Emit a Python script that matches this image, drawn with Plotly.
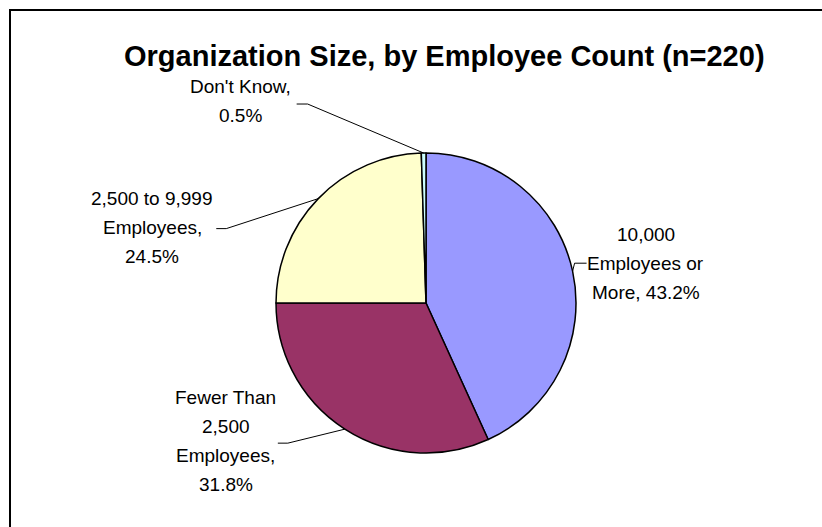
import math
import plotly.graph_objects as go

W, H = 822, 527

# ---- data ----
categories = ["10,000 Employees or More", "Fewer Than 2,500 Employees",
              "2,500 to 9,999 Employees", "Don't Know"]
values = [43.2, 31.8, 24.5, 0.5]
label_lines = [["10,000", "Employees or", "More, {p}"],
               ["Fewer Than", "2,500", "Employees,", "{p}"],
               ["2,500 to 9,999", "Employees,", "{p}"],
               ["Don't Know,", "{p}"]]
colors = ["#9999FF", "#993366", "#FFFFCC", "#CCFFFF"]
title_text = "Organization Size, by Employee Count (n=220)"

# ---- layout (pixels) ----
pie_left, pie_top, pie_size = 276, 153, 300
cx, cy, r = pie_left + pie_size / 2, pie_top + pie_size / 2, pie_size / 2
# label center offset, leader knee offset (relative to slice edge point), tick length
label_off = [(73, -8), (-119, 12), (-166, 29), (-183, -52)]
knee_off = [(2, -8), (-57, 14), (-92, 30), (-116, -49)]
tick_dir = [12, -10, -10, -11]
LINE_H = 29
FONT = "Arial, Liberation Sans, sans-serif"


def px(x):
    return x / W


def py(y):
    return 1 - y / H


fig = go.Figure(go.Pie(
    labels=categories, values=values, sort=False, direction="clockwise",
    rotation=0, textinfo="none", hoverinfo="label+percent",
    marker=dict(colors=colors, line=dict(color="#000000", width=1.5)),
    domain=dict(x=[px(pie_left), px(pie_left + pie_size)],
                y=[py(pie_top + pie_size), py(pie_top)]),
    showlegend=False,
))

annotations = []
shapes = []
total = sum(values)
cum = 0.0
for i, v in enumerate(values):
    mid = (cum + v / 2) / total * 2 * math.pi
    cum += v
    ex = cx + r * math.sin(mid)
    ey = cy - r * math.cos(mid)
    lx, ly = ex + label_off[i][0], ey + label_off[i][1]
    kx, ky = ex + knee_off[i][0], ey + knee_off[i][1]
    tx = kx + tick_dir[i]
    lines = [s.format(p=f"{v:.1f}%") for s in label_lines[i]]
    n = len(lines)
    for j, s in enumerate(lines):
        yy = ly + (j - (n - 1) / 2) * LINE_H
        annotations.append(dict(
            text=s, x=px(lx), y=py(yy), xref="paper", yref="paper",
            xanchor="center", yanchor="middle", showarrow=False,
            font=dict(family=FONT, size=19, color="#000000")))
    shapes.append(dict(type="path", xref="paper", yref="paper",
                       path=f"M {px(ex)},{py(ey)} L {px(kx)},{py(ky)} L {px(tx)},{py(ky)}",
                       line=dict(color="#000000", width=1)))

annotations.append(dict(
    text=f"<b>{title_text}</b>", x=px(444), y=py(56), xref="paper", yref="paper",
    xanchor="center", yanchor="middle", showarrow=False,
    font=dict(family=FONT, size=29, color="#000000")))

shapes.append(dict(type="rect", xref="paper", yref="paper",
                   x0=px(10), x1=px(W + 10), y0=py(H + 10), y1=py(10),
                   line=dict(color="#000000", width=2), fillcolor="rgba(0,0,0,0)"))

fig.update_layout(
    width=W, height=H, margin=dict(l=0, r=0, t=0, b=0),
    paper_bgcolor="#FFFFFF", plot_bgcolor="#FFFFFF",
    annotations=annotations, shapes=shapes,
)
fig.write_html("out.html")
